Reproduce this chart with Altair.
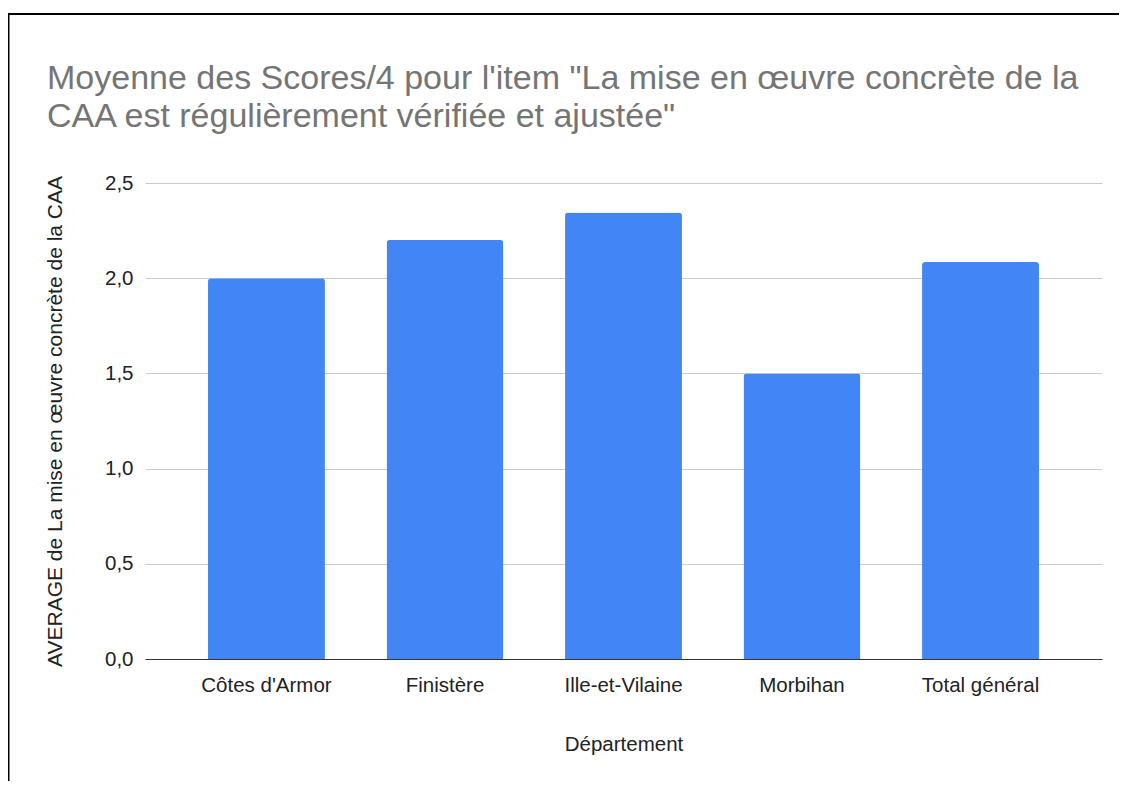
import altair as alt
import pandas as pd

departements = ["Côtes d'Armor", "Finistère", "Ille-et-Vilaine", "Morbihan", "Total général"]
moyennes = [2.0, 2.2, 2.345, 1.5, 2.085]
y_ticks = [0.0, 0.5, 1.0, 1.5, 2.0, 2.5]

title_lines = ["Moyenne des Scores/4 pour l'item \"La mise en œuvre concrète de la",
               "CAA est régulièrement vérifiée et ajustée\""]
x_title = "Département"
y_title = "AVERAGE de La mise en œuvre concrète de la CAA"

df = pd.DataFrame({"dep": departements, "val": moyennes})

FONT = "Liberation Sans"
W, H = 957, 476

bars = alt.Chart(df).mark_bar(
    color="#4285F4", cornerRadiusTopLeft=3, cornerRadiusTopRight=3
).encode(
    x=alt.X("dep:N", sort=departements,
            scale=alt.Scale(paddingInner=0.345, paddingOuter=0.353),
            axis=alt.Axis(title=x_title, labelAngle=0, ticks=False,
                          domainColor="#333333", domainWidth=1,
                          labelPadding=16, titlePadding=39,
                          labelFontSize=20.5, titleFontSize=20.5,
                          labelColor="#222222", titleColor="#222222",
                          labelFont=FONT, titleFont=FONT, titleFontWeight="normal")),
    y=alt.Y("val:Q", scale=alt.Scale(domain=[0, 2.5], nice=False),
            axis=alt.Axis(title=y_title, values=y_ticks, ticks=False, domain=False,
                          gridColor="#cccccc", gridWidth=1,
                          labelExpr="replace(format(datum.value, '.1f'), '.', ',')",
                          labelPadding=12, labelFontSize=20.5, titleFontSize=21,
                          labelColor="#222222", titleColor="#222222",
                          labelFont=FONT, titleFont=FONT, titleFontWeight="normal",
                          titleAngle=-90, titleBaseline="middle", titleAlign="center",
                          titleX=-90, titleY=H / 2))
)

border_data = alt.Data(values=[{"k": 1}])
left_border = alt.Chart(border_data).mark_rule(color="#000000", strokeWidth=2).encode(
    x=alt.value(-136.5), y=alt.value(-169), y2=alt.value(700))
top_border = alt.Chart(border_data).mark_rule(color="#000000", strokeWidth=2).encode(
    x=alt.value(-137.5), x2=alt.value(1000), y=alt.value(-169))

chart = alt.layer(bars, left_border, top_border).properties(
    width=W, height=H,
    autosize=alt.AutoSizeParams(type="none"),
    padding={"left": 137, "top": 175, "right": 17, "bottom": 122},
    title=alt.TitleParams(text=title_lines, anchor="start", frame="group",
                          fontSize=34, font=FONT,
                          fontWeight="normal", color="#757575", dx=-98, offset=-121,
                          lineHeight=38),
).configure_view(stroke=None)

chart.save("out.html", embed_options={"renderer": "svg", "actions": False})
